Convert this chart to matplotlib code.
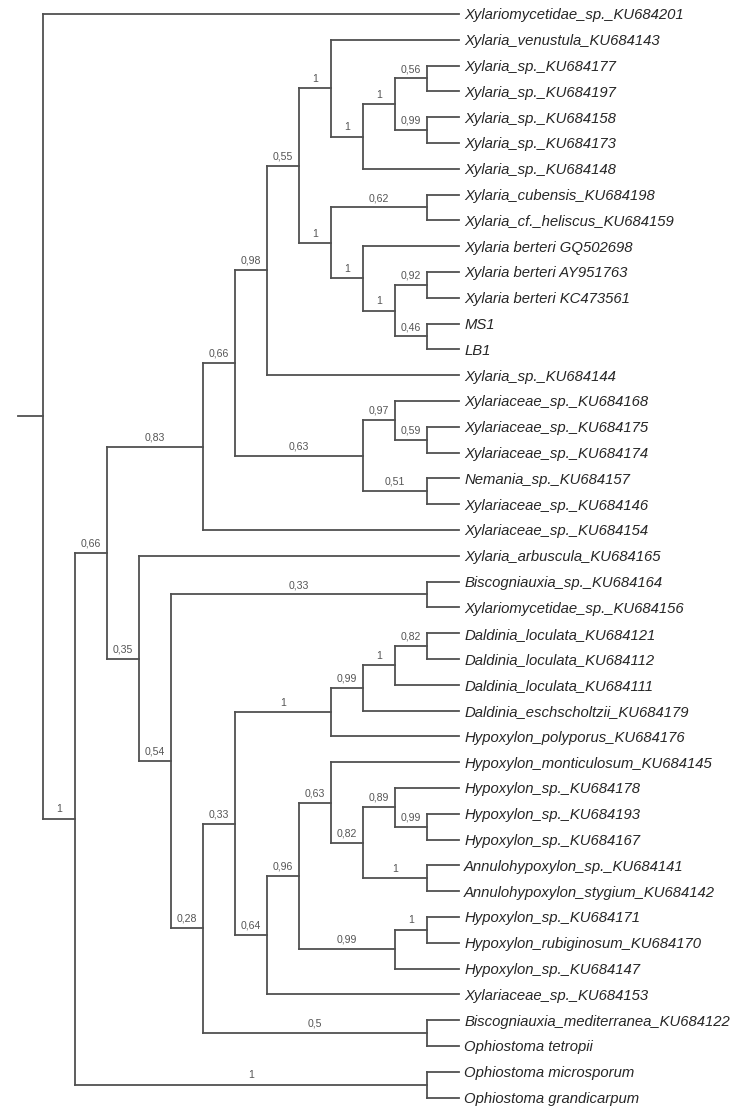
"""
Bayesian phylogeny of Xylariales isolates (cladogram with posterior support).
"""
import matplotlib
matplotlib.use("Agg")
import matplotlib.pyplot as plt

# tip order top -> bottom
LEAVES = [
    "Xylariomycetidae_sp._KU684201",
    "Xylaria_venustula_KU684143",
    "Xylaria_sp._KU684177",
    "Xylaria_sp._KU684197",
    "Xylaria_sp._KU684158",
    "Xylaria_sp._KU684173",
    "Xylaria_sp._KU684148",
    "Xylaria_cubensis_KU684198",
    "Xylaria_cf._heliscus_KU684159",
    "Xylaria berteri GQ502698",
    "Xylaria berteri AY951763",
    "Xylaria berteri KC473561",
    "MS1",
    "LB1",
    "Xylaria_sp._KU684144",
    "Xylariaceae_sp._KU684168",
    "Xylariaceae_sp._KU684175",
    "Xylariaceae_sp._KU684174",
    "Nemania_sp._KU684157",
    "Xylariaceae_sp._KU684146",
    "Xylariaceae_sp._KU684154",
    "Xylaria_arbuscula_KU684165",
    "Biscogniauxia_sp._KU684164",
    "Xylariomycetidae_sp._KU684156",
    "Daldinia_loculata_KU684121",
    "Daldinia_loculata_KU684112",
    "Daldinia_loculata_KU684111",
    "Daldinia_eschscholtzii_KU684179",
    "Hypoxylon_polyporus_KU684176",
    "Hypoxylon_monticulosum_KU684145",
    "Hypoxylon_sp._KU684178",
    "Hypoxylon_sp._KU684193",
    "Hypoxylon_sp._KU684167",
    "Annulohypoxylon_sp._KU684141",
    "Annulohypoxylon_stygium_KU684142",
    "Hypoxylon_sp._KU684171",
    "Hypoxylon_rubiginosum_KU684170",
    "Hypoxylon_sp._KU684147",
    "Xylariaceae_sp._KU684153",
    "Biscogniauxia_mediterranea_KU684122",
    "Ophiostoma tetropii",
    "Ophiostoma microsporum",
    "Ophiostoma grandicarpum",
]

# clades as (first tip, last tip, posterior); None = unlabelled root
CLADES = [
    (0, 42, None),
    (1, 42, 1), (41, 42, 1),
    (1, 40, 0.66),
    (1, 20, 0.83), (1, 19, 0.66), (1, 14, 0.98), (1, 13, 0.55),
    (1, 6, 1), (2, 6, 1), (2, 5, 1), (2, 3, 0.56), (4, 5, 0.99),
    (7, 13, 1), (7, 8, 0.62), (9, 13, 1), (10, 13, 1), (10, 11, 0.92), (12, 13, 0.46),
    (15, 19, 0.63), (15, 17, 0.97), (16, 17, 0.59), (18, 19, 0.51),
    (21, 40, 0.35), (22, 40, 0.54), (22, 23, 0.33),
    (24, 40, 0.28), (24, 38, 0.33), (39, 40, 0.5),
    (24, 28, 1), (24, 27, 0.99), (24, 26, 1), (24, 25, 0.82),
    (29, 38, 0.64), (29, 37, 0.96), (29, 34, 0.63), (30, 34, 0.82),
    (30, 32, 0.89), (31, 32, 0.99), (33, 34, 1),
    (35, 37, 0.99), (35, 36, 1),
]

LINE_COLOR = "#505050"
TEXT_COLOR = "#262626"
SUPPORT_COLOR = "#555555"


def children(span):
    a, b = span
    out, i = [], a
    while i <= b:
        sub = [c for c in CLADES if c[0] == i and c[1] <= b and (c[0], c[1]) != (a, b)]
        if sub:
            best = max(sub, key=lambda c: c[1])
            out.append((best[0], best[1]))
            i = best[1] + 1
        else:
            out.append(i)
            i += 1
    return out


support = {(a, b): s for a, b, s in CLADES}
height, ypos = {}, {}


def layout(node):
    if isinstance(node, int):
        height[node], ypos[node] = 0, float(node)
        return
    kids = children(node)
    for k in kids:
        layout(k)
    height[node] = max(height[k] for k in kids) + 1
    ypos[node] = (ypos[kids[0]] + ypos[kids[-1]]) / 2


root = (0, len(LEAVES) - 1)
layout(root)
H = height[root]


def xof(node):
    return H - height[node]


fig = plt.figure(figsize=(7.47, 11.16), dpi=100)
ax = fig.add_axes([0, 0, 1, 1])
# 1 level = 32 px, 1 tip = 25.8 px; root sits at x=43 px, first tip at y=14 px
ax.set_xlim(-43 / 32, (747 - 43) / 32)
ax.set_ylim((1116 - 14) / 25.8, -14 / 25.8)
ax.axis("off")

kw = dict(color=LINE_COLOR, lw=1.3, solid_capstyle="projecting")


def draw(node):
    if isinstance(node, int):
        return
    kids = children(node)
    x0 = xof(node)
    ax.plot([x0, x0], [ypos[kids[0]], ypos[kids[-1]]], **kw)
    for k in kids:
        ax.plot([x0, xof(k)], [ypos[k], ypos[k]], **kw)
        if not isinstance(k, int) and support.get(k) is not None:
            lab = f"{support[k]:g}".replace(".", ",")
            ax.annotate(lab, ((x0 + xof(k)) / 2, ypos[k]), xytext=(0, 3.2),
                        textcoords="offset points", ha="center", va="bottom",
                        fontsize=7.6, color=SUPPORT_COLOR, family="Liberation Sans")
        draw(k)


draw(root)
# root stub
ax.plot([-25 / 32, 0], [ypos[root], ypos[root]], **kw)

for i, name in enumerate(LEAVES):
    ax.text(H + 0.16, i, name, ha="left", va="center_baseline", fontsize=10.7,
            style="italic", color=TEXT_COLOR, family="Liberation Sans")

fig.savefig("out.png", dpi=100, facecolor="white")
